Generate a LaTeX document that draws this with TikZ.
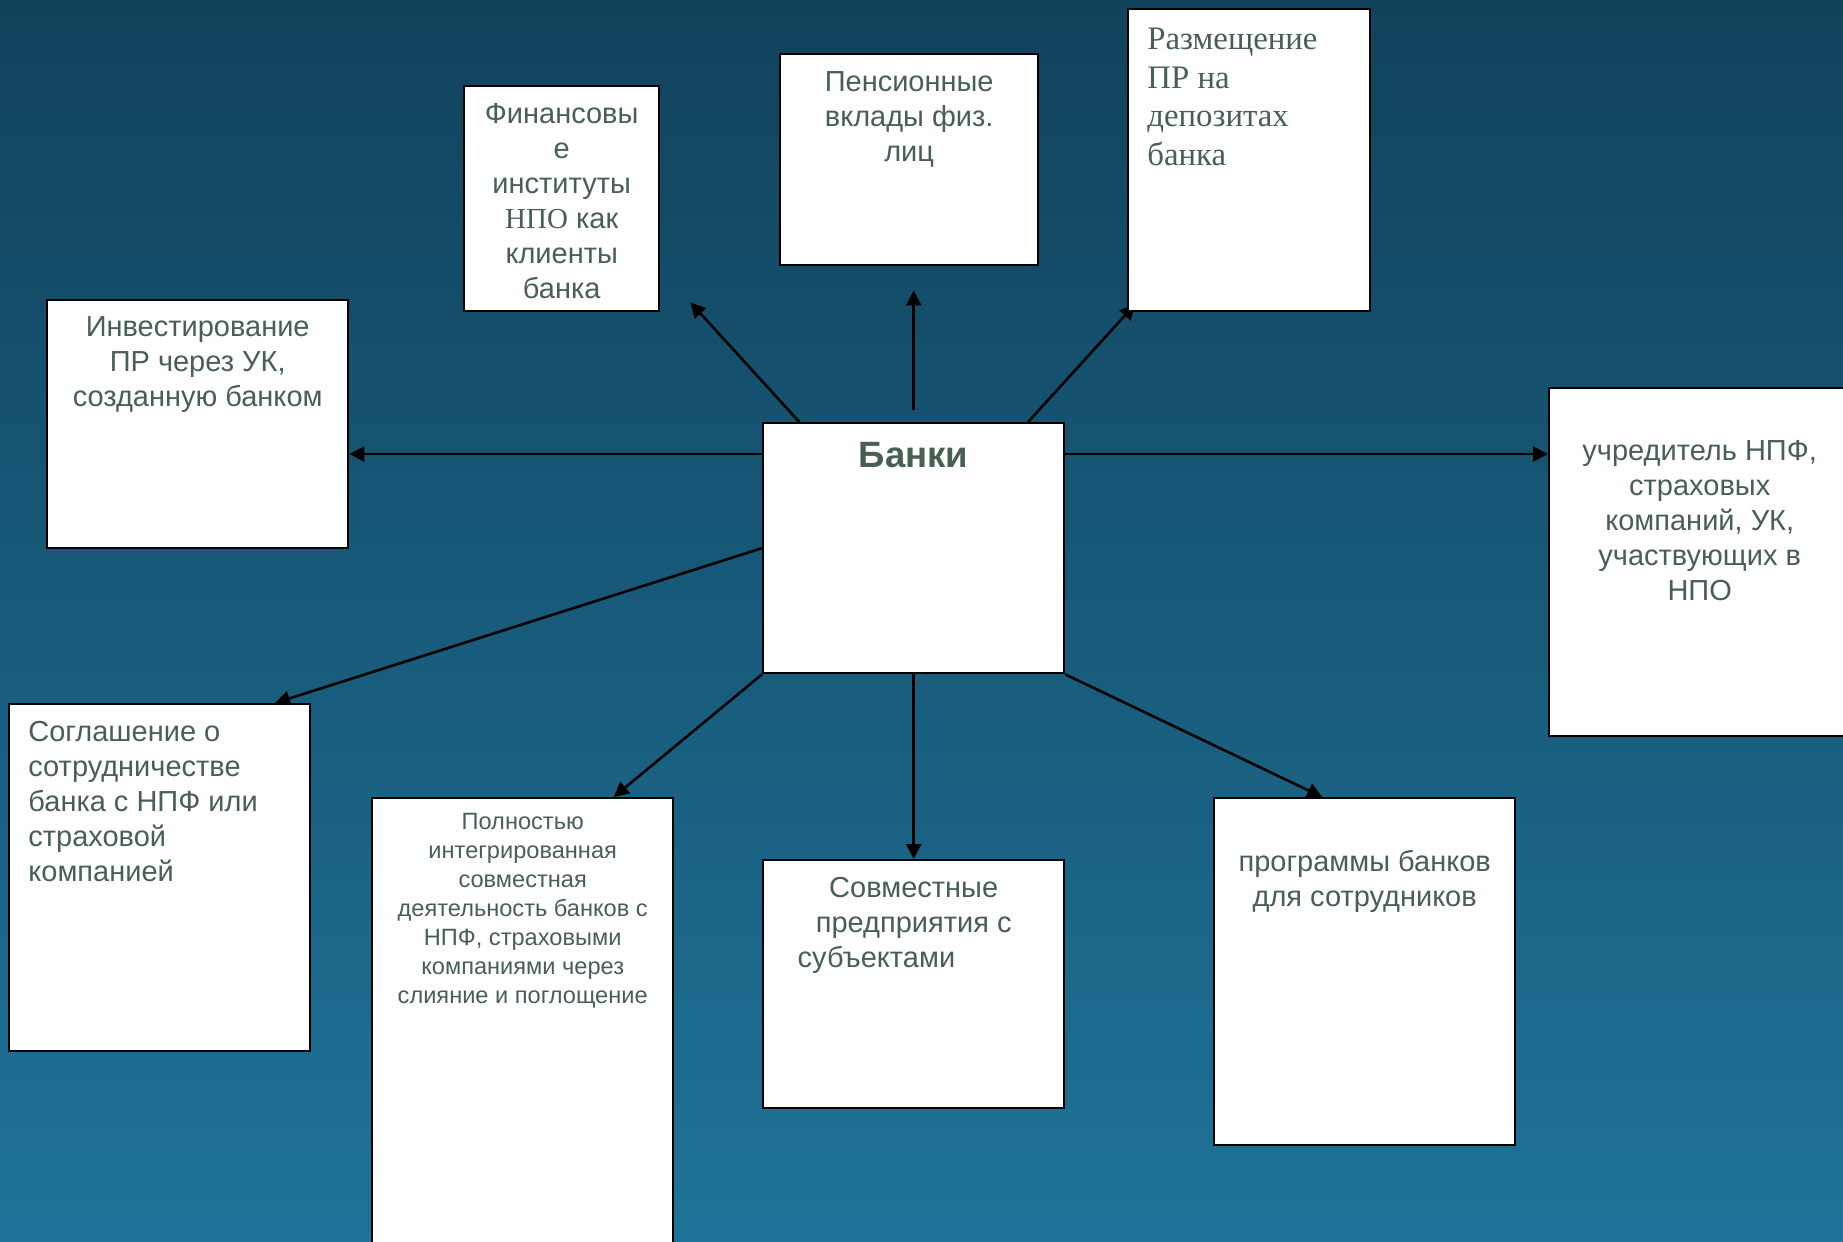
\documentclass[tikz,border=0pt]{standalone}
\usepackage{fontspec}
\setmainfont{Liberation Serif}
\setsansfont{Liberation Sans}
\usetikzlibrary{positioning,calc,arrows.meta}
\definecolor{bgtop}{RGB}{17,66,92}
\definecolor{bgbottom}{RGB}{31,115,152}
\definecolor{textgreen}{RGB}{72,96,82}
\pgfdeclarelayer{bg}
\pgfdeclarelayer{lines}
\pgfsetlayers{bg,lines,main}
\begin{document}
\begin{tikzpicture}[x=0.5pt, y=-0.5pt,
        box/.style={draw, fill=white, line width=1.2pt, inner sep=0pt, anchor=north west},
        txt/.style={inner sep=0pt, text=textgreen, align=center, font=\sffamily\fontsize{14.5}{17.5}\selectfont},
        arr/.style={line width=1.3pt, -{Triangle[length=7.5pt,width=7.5pt]}}]
        \useasboundingbox (0,0) rectangle (1843,1242);
        \begin{pgfonlayer}{bg}
        \fill[top color=bgtop, bottom color=bgbottom] (0,0) rectangle (1843,1242);
        \end{pgfonlayer}
        % boxes
        \node[box, minimum width=150.5pt, minimum height=125pt] (banki) at (762,422) {};
        \node[txt, font=\sffamily\bfseries\fontsize{18.3}{22}\selectfont, below=10pt of banki.north] (bankitxt) {Банки};
        \node[box, minimum width=150.5pt, minimum height=124pt] (invest) at (46,299) {};
        \node[txt, below=8.5pt of invest.north] (investtxt) {Инвестирование\\ПР через УК,\\созданную банком};
        \node[box, minimum width=97.5pt, minimum height=112.5pt] (fin) at (463,85) {};
        \node[txt, below=9pt of fin.north] (fintxt) {Финансовы\\е\\институты\\{\rmfamily НПО} как\\клиенты\\банка};
        \node[box, minimum width=129pt, minimum height=105.5pt] (pens) at (779,53) {};
        \node[txt, below=9pt of pens.north] (penstxt) {Пенсионные\\вклады физ.\\лиц};
        \node[box, minimum width=121pt, minimum height=151pt] (razm) at (1127,8) {};
        \node[txt, align=left, font=\rmfamily\fontsize{16.4}{19.2}\selectfont, below right=10pt and 10pt of razm.north west] (razmtxt) {Размещение\\ПР на\\депозитах\\банка};
        \node[box, minimum width=150.5pt, minimum height=174pt] (uchr) at (1548,387) {};
        \node[txt, below=26.5pt of uchr.north] (uchrtxt) {учредитель НПФ,\\страховых\\компаний, УК,\\участвующих в\\НПО};
        \node[box, minimum width=150.5pt, minimum height=173.5pt] (sogl) at (8,703) {};
        \node[txt, align=left, below right=9pt and 10pt of sogl.north west] (sogltxt) {Соглашение о\\сотрудничестве\\банка с НПФ или\\страховой\\компанией};
        \node[box, minimum width=150.5pt, minimum height=230pt] (poln) at (371,797) {};
        \node[txt, font=\sffamily\fontsize{11.8}{14.5}\selectfont, below=8pt of poln.north] (polntxt) {Полностью\\интегрированная\\совместная\\деятельность банков с\\НПФ, страховыми\\компаниями через\\слияние и поглощение};
        \node[box, minimum width=150.5pt, minimum height=124pt] (sovm) at (762,859) {};
        \node[txt, below=9pt of sovm.north] (sovmtxt) {Совместные\\предприятия с\\\makebox[116pt][l]{субъектами}};
        \node[box, minimum width=150.5pt, minimum height=173.5pt] (progr) at (1213,797) {};
        \node[txt, below=26.5pt of progr.north] (progrtxt) {программы банков\\для сотрудников};
        % arrows
        \coordinate (bl) at ([yshift=-16pt]banki.north west);
        \coordinate (br) at ([yshift=-16pt]banki.north east);
        \coordinate (pensend) at ([yshift=-12pt]pens.south);
        \begin{pgfonlayer}{lines}
        \draw[arr] ($(banki.north west)!.123!(banki.north east)$) -- ([xshift=15pt,yshift=5pt]fin.south east);
        \draw[arr] ([yshift=6pt]banki.north) -- (banki.north |- pensend);
        \draw[arr] ($(banki.north west)!.877!(banki.north east)$) -- ([xshift=4pt,yshift=4pt]razm.south west);
        \draw[arr] (bl) -- (bl -| invest.east);
        \draw[arr] (br) -- (br -| uchr.west);
        \draw[arr] (banki.west) -- ($(sogl.north west)!.88!(sogl.north east)$);
        \draw[arr] (banki.south west) -- ($(poln.north west)!.8!(poln.north east)$);
        \draw[arr] (banki.south) -- (sovm.north);
        \draw[arr] (banki.south east) -- ($(progr.north west)!.36!(progr.north east)$);
        \end{pgfonlayer}
\end{tikzpicture}
\end{document}
